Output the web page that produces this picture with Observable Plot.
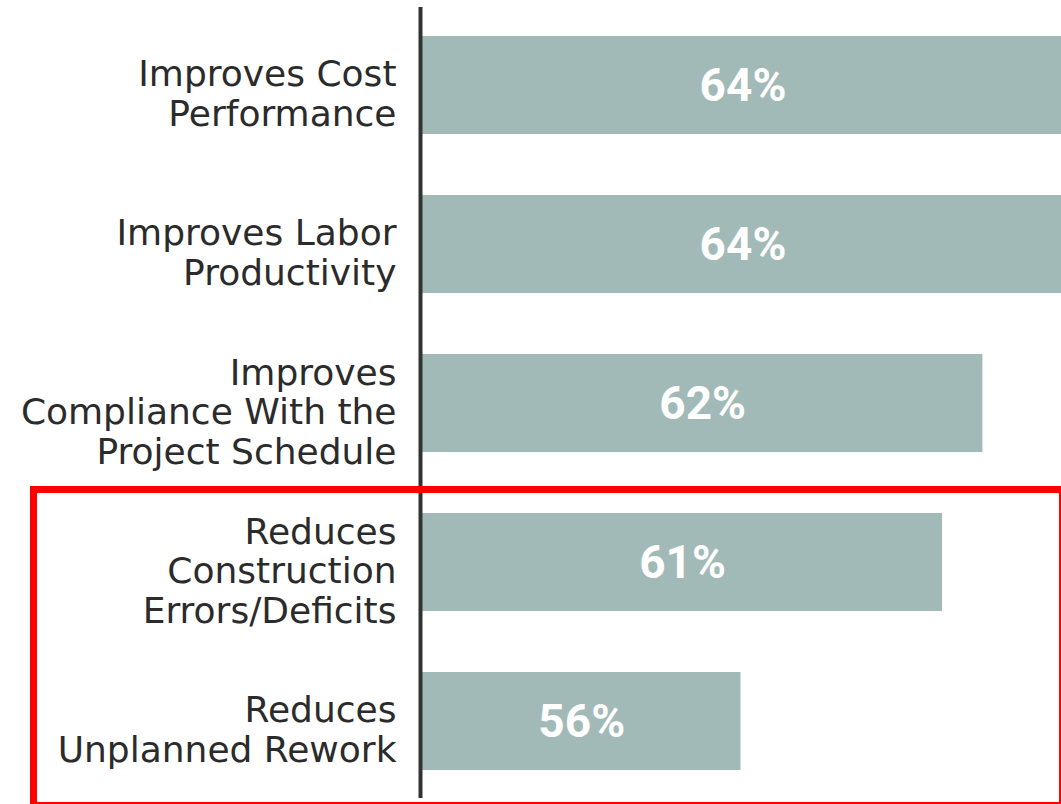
<!DOCTYPE html>
<html>
<head>
<meta charset="utf-8">
<script src="https://cdn.jsdelivr.net/npm/d3@7"></script>
<script src="https://cdn.jsdelivr.net/npm/@observablehq/plot@0.6"></script>
<style>
  html, body { margin: 0; padding: 0; background: #fff; overflow: hidden; }
  #wrap { position: relative; width: 1061px; height: 804px; }
  #highlight {
    position: absolute; left: 30px; top: 486px; width: 1031px; height: 318px;
    box-sizing: border-box; border-left: 7px solid #ff0000; border-top: 7px solid #ff0000;
    border-right: 2px solid #ff0000; border-bottom: 2px solid #ff0000; pointer-events: none;
  }
</style>
</head>
<body>
<div id="wrap"><div id="highlight"></div></div>
<script>
const categories = [
  "Improves Cost\nPerformance",
  "Improves Labor\nProductivity",
  "Improves\nCompliance With the\nProject Schedule",
  "Reduces\nConstruction\nErrors/Deficits",
  "Reduces\nUnplanned Rework"
];
const values = [64, 64, 62, 61, 56];
const valueLabels = ["64%", "64%", "62%", "61%", "56%"];
const xDomain = [48.1, 63.95];

const data = categories.map((c, i) => ({category: c, value: values[i], label: valueLabels[i]}));

const chart = Plot.plot({
  width: 1061,
  height: 804,
  marginLeft: 422,
  marginRight: 0,
  marginTop: 7,
  marginBottom: 6,
  style: {background: "transparent", overflow: "hidden"},
  x: {domain: xDomain, axis: null},
  y: {domain: categories, paddingInner: 0.384, paddingOuter: 0.179, label: null},
  marks: [
    Plot.barX(data, {x: "value", y: "category", fill: "#a2bab7", clip: true}),
    Plot.text(data, {
      x: d => (xDomain[0] + d.value) / 2, y: "category", text: "label",
      fill: "#ffffff", fontSize: 46, fontWeight: "bold", fontFamily: "Roboto",
      textAnchor: "middle", dy: 1
    }),
    Plot.ruleX([xDomain[0]], {stroke: "#333333", strokeWidth: 4, dx: -2}),
    Plot.axisY({
      tickSize: 0, tickPadding: 26, fontSize: 36, lineHeight: 1.1, dy: 8,
      fill: "#2b2b2b", fontFamily: "DejaVu Sans", label: null, tickFormat: d => d
    })
  ]
});
document.getElementById("wrap").insertBefore(chart, document.getElementById("highlight"));
</script>
</body>
</html>
